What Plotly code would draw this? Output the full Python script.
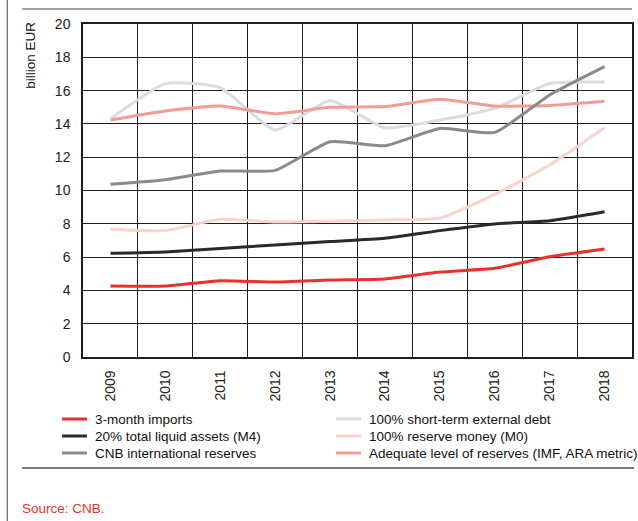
import plotly.graph_objects as go

years = [2009, 2010, 2011, 2012, 2013, 2014, 2015, 2016, 2017, 2018]

imports_3m = [4.26, 4.26, 4.58, 4.50, 4.62, 4.68, 5.10, 5.33, 6.02, 6.49]
liquid_m4 = [6.23, 6.31, 6.51, 6.73, 6.93, 7.13, 7.59, 7.99, 8.19, 8.73]
cnb_reserves = [10.37, 10.65, 11.17, 11.21, 12.93, 12.69, 13.73, 13.49, 15.74, 17.44]
st_debt = [14.30, 16.42, 16.18, 13.63, 15.40, 13.77, 14.23, 14.93, 16.43, 16.51]
reserve_m0 = [7.67, 7.59, 8.27, 8.11, 8.15, 8.23, 8.35, 9.77, 11.53, 13.77]
ara_metric = [14.23, 14.77, 15.07, 14.61, 15.00, 15.04, 15.48, 15.07, 15.11, 15.36]

series_names = [
    "3-month imports",
    "20% total liquid assets (M4)",
    "CNB international reserves",
    "100% short-term external debt",
    "100% reserve money (M0)",
    "Adequate level of reserves (IMF, ARA metric)",
]
series_values = [imports_3m, liquid_m4, cnb_reserves, st_debt, reserve_m0, ara_metric]
series_colors = ["#e8312b", "#2a2a2e", "#8a8a8a", "#dcdcdc", "#fad2ce", "#f29c96"]

y_ticks = [0, 2, 4, 6, 8, 10, 12, 14, 16, 18, 20]

FONT = "Liberation Sans, Arial, sans-serif"
FS = 13.5
W, H = 638, 521
L, R, T, B = 83, 4, 24, 164
PW, PH = W - L - R, H - T - B


def px(x):
    return (x - L) / PW


def py(y):
    return (H - B - y) / PH


fig = go.Figure()

# draw order: background series first, strong lines on top
draw_order = [3, 4, 5, 2, 1, 0]
for i in draw_order:
    fig.add_trace(go.Scatter(
        x=years, y=series_values[i], name=series_names[i], mode="lines",
        line=dict(color=series_colors[i], width=3, shape="spline", smoothing=0.5),
        showlegend=False, hoverinfo="skip",
    ))

grid_col = "#1e1e1e"
fig.update_xaxes(
    range=[2008.5, 2018.5], tickvals=years, ticktext=[str(y) for y in years],
    tickangle=-90, showgrid=False, ticks="", zeroline=False,
    showline=True, linecolor=grid_col, linewidth=1.5, mirror=True,
    minor=dict(tickvals=[y - 0.5 for y in years] + [2018.5], showgrid=True,
               gridcolor=grid_col, gridwidth=1.3, ticks=""),
    tickfont=dict(family=FONT, size=14, color="#222"),
    ticklabelstandoff=6,
)
fig.update_yaxes(
    range=[0, 20], tickvals=y_ticks, showgrid=True, gridcolor=grid_col, gridwidth=1.3,
    ticks="", zeroline=False, showline=True, linecolor=grid_col, linewidth=1.5, mirror=True,
    tickfont=dict(family=FONT, size=14, color="#222"), ticklabelstandoff=8,
)

shapes = []
annotations = []

# frame lines around the figure
shapes.append(dict(type="line", xref="paper", yref="paper", x0=px(7), x1=px(7),
                   y0=py(0), y1=py(H), line=dict(color="#666", width=1.2)))
shapes.append(dict(type="line", xref="paper", yref="paper", x0=px(22), x1=px(634),
                   y0=py(9), y1=py(9), line=dict(color="#444", width=1.2)))
shapes.append(dict(type="line", xref="paper", yref="paper", x0=px(22), x1=px(636),
                   y0=py(468), y1=py(468), line=dict(color="#777", width=1.8)))

# legend, two columns of three
legend_rows = [419, 436, 453]
legend_cols = [(62, 87, 93), (337, 362, 368)]
for k, name in enumerate(series_names):
    col = legend_cols[k // 3]
    row = legend_rows[k % 3]
    shapes.append(dict(type="line", xref="paper", yref="paper",
                       x0=px(col[0]), x1=px(col[1]), y0=py(row), y1=py(row),
                       line=dict(color=series_colors[k], width=3)))
    annotations.append(dict(text=name, xref="paper", yref="paper", x=px(col[2]), y=py(row),
                            xanchor="left", yanchor="middle", showarrow=False,
                            font=dict(family=FONT, size=FS, color="#111")))

annotations.append(dict(text="billion EUR", xref="paper", yref="paper", x=px(30), y=py(20),
                        xanchor="center", yanchor="top", textangle=-90, showarrow=False,
                        font=dict(family=FONT, size=FS, color="#111")))
annotations.append(dict(text="Source: CNB.", xref="paper", yref="paper", x=px(20), y=py(508),
                        xanchor="left", yanchor="middle", showarrow=False,
                        font=dict(family=FONT, size=FS, color="#e8312b")))

fig.update_layout(
    width=W, height=H, margin=dict(l=L, r=R, t=T, b=B),
    paper_bgcolor="white", plot_bgcolor="white",
    shapes=shapes, annotations=annotations, showlegend=False,
)

fig.write_html("out.html")
